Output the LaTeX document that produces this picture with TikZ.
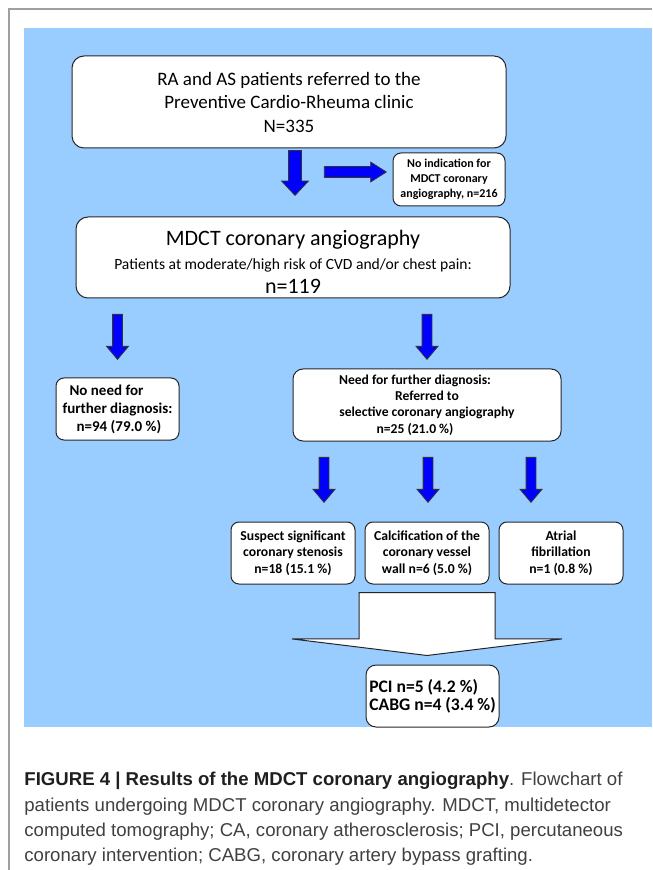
\documentclass[tikz,border=0pt]{standalone}
\usepackage{fontspec}
\setmainfont{Carlito}
\newfontfamily\capfont{Liberation Sans}
\usetikzlibrary{shapes.arrows}
\definecolor{skyback}{RGB}{153,204,255}
\definecolor{arrblue}{RGB}{0,0,255}
\definecolor{framegray}{RGB}{160,160,160}
\tikzset{
  box/.style={rectangle, draw=black!85, fill=white, rounded corners=5pt, line width=0.5pt, align=center, inner sep=1pt},
  small/.style={box, rounded corners=4pt, minimum width=62pt, minimum height=31pt, font=\bfseries\fontsize{6.85}{8.25}\selectfont},
  downarr/.style={single arrow, draw=black!80, fill=arrblue, line width=0.4pt, shape border rotate=270, anchor=tip, minimum height=22.5pt, inner sep=2.25pt, single arrow head extend=3pt, single arrow tip angle=80},
  bigarr/.style={single arrow, draw=black!85, fill=white, line width=0.5pt, shape border rotate=270, anchor=tip}
}

\begin{document}
\begin{tikzpicture}[x=0.5pt, y=-0.5pt]
\useasboundingbox (0,0) rectangle (652,870);
\draw[framegray, line width=0.8pt] (9,870) -- (9,9) -- (652,9);
\fill[skyback] (24,28) rectangle (652,727);
% boxes
\node[box, minimum width=217pt, minimum height=46pt, rounded corners=6pt, font=\fontsize{9.5}{11.75}\selectfont] (refer) at (289,102) {RA and AS patients referred to the\\Preventive Cardio-Rheuma clinic\\N=335};
\node[box, rounded corners=4pt, minimum width=56pt, minimum height=26.5pt, font=\bfseries\fontsize{6}{7.5}\selectfont] (noind) at (449,179.5) {No indication for\\MDCT coronary\\angiography, n=216};
\node[box, minimum width=217pt, minimum height=40.5pt, rounded corners=6pt] (mdct) at (293,257.5) {\rule{0pt}{12pt}{\fontsize{11}{12}\selectfont MDCT coronary angiography}\\{\fontsize{7.8}{10.5}\selectfont Patients at moderate/high risk of CVD and/or chest pain:}\\{\fontsize{11}{11}\selectfont n=119}};
\node[small, minimum width=61.5pt, align=left, font=\bfseries\fontsize{7.5}{9}\selectfont] (noneed) at (117.5,409) {\hspace*{3.5pt}No need for\\further diagnosis:\\\hspace*{7pt}n=94 (79.0 \%)};
\node[box, rounded corners=5pt, minimum width=134pt, minimum height=36pt, font=\bfseries\fontsize{6.8}{8.2}\selectfont] (need) at (427,405) {Need for further diagnosis:\hspace*{12pt}\\Referred to\hspace*{12pt}\\selective coronary angiography\hspace*{12pt}\\n=25 (21.0 \%)\hspace*{12pt}};
\node[small] (suspect) at (293,553) {Suspect significant\\coronary stenosis\\n=18 (15.1 \%)};
\node[small] (calc) at (427,553) {Calcification of the\\coronary vessel\\wall n=6 (5.0 \%)};
\node[small] (atrial) at (561,553) {Atrial\\fibrillation\\n=1 (0.8 \%)};
\node[box, rounded corners=5pt, minimum width=66.5pt, minimum height=31pt, align=left, font=\bfseries\fontsize{8.8}{9.2}\selectfont] (pci) at (432.5,696) {PCI n=5 (4.2 \%)\\CABG n=4 (3.4 \%)};
% block arrows
\node[downarr, inner sep=3pt, single arrow head extend=3.5pt, single arrow tip angle=86] (a1) at (295,196) {};
\node[single arrow, draw=black!80, fill=arrblue, line width=0.4pt, anchor=tip, minimum height=31pt, inner sep=2.5pt, single arrow head extend=2.25pt, single arrow tip angle=65] (a2) at (387,172) {};
\node[downarr] (a3) at (117.5,360) {};
\node[downarr] (a4) at (427,360) {};
\foreach \ax/\nm in {324/a5, 428/a6, 531/a7}
  \node[downarr] (\nm) at (\ax,503) {};
\node[bigarr, minimum height=31.5pt, inner xsep=33.75pt, inner ysep=0pt, single arrow head extend=33.5pt, single arrow tip angle=166] (big) at (427,656) {};
% caption
\node[anchor=north west, align=left, inner sep=0pt, font=\capfont\fontsize{9.3}{12.65}\selectfont, text=black!75] (cap) at (24,772) {{\bfseries\color{black!88}FIGURE 4 | Results of the MDCT coronary angiography}. Flowchart of\\patients undergoing MDCT coronary angiography. MDCT, multidetector\\computed tomography; CA, coronary atherosclerosis; PCI, percutaneous\\coronary intervention; CABG, coronary artery bypass grafting.};
\end{tikzpicture}
\end{document}
